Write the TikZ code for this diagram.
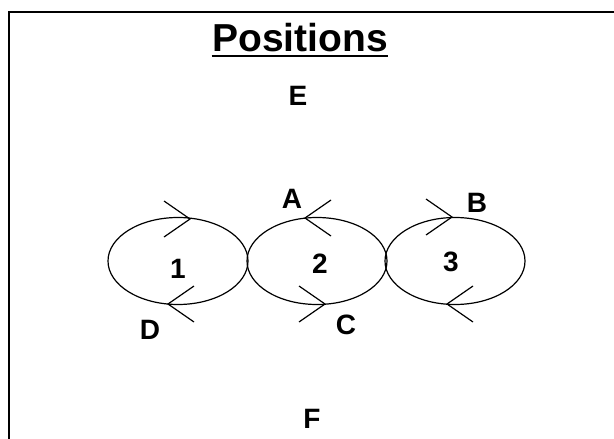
\documentclass[tikz,border=0pt]{standalone}
\usepackage{fontspec}
\setmainfont{Liberation Sans}
\usepackage{tikz}

\begin{document}
\begin{tikzpicture}[x=1pt,y=-1pt,line width=1pt,
   lbl/.style={font=\fontsize{28}{30}\selectfont\bfseries,anchor=base,inner sep=0pt},
   ttl/.style={font=\fontsize{39}{42}\selectfont\bfseries,anchor=base,inner sep=0pt},
   loop/.style={line width=1.2pt},
   chev/.style={line width=1.2pt}]
\useasboundingbox (0,0) rectangle (614,439);
\draw[line width=1.5pt] (9,439) -- (9,12) -- (614,12);
\node[ttl] (title) at (300,51) {Positions};
\draw[line width=2.5pt] ([yshift=-4pt]title.south west) -- ([yshift=-4pt]title.south east);
% the three loops
\foreach \n/\x in {1/178,2/317,3/455} {
   \draw[loop] (\x,261) ellipse [x radius=70pt, y radius=43.5pt];
}
% arrow heads on the loops
\foreach \x/\y/\d in %
{190/219/1,168/304/-1,305/218/-1,325/304/1,452/217/1,447/304/-1} {
   \draw[chev] (\x-26*\d,\y-18) -- (\x,\y) -- (\x-26*\d,\y+18);
}
\node[lbl] (one) at (178,278) {1};
\node[lbl] (two) at (320,273) {2};
\node[lbl] (three) at (451,271) {3};
\node[lbl] (A) at (292,208) {A};
\node[lbl] (B) at (477,212) {B};
\node[lbl] (C) at (346,334) {C};
\node[lbl] (D) at (150,339) {D};
\node[lbl] (E) at (298,105) {E};
\node[lbl] (F) at (312,428) {F};
\end{tikzpicture}
\end{document}
